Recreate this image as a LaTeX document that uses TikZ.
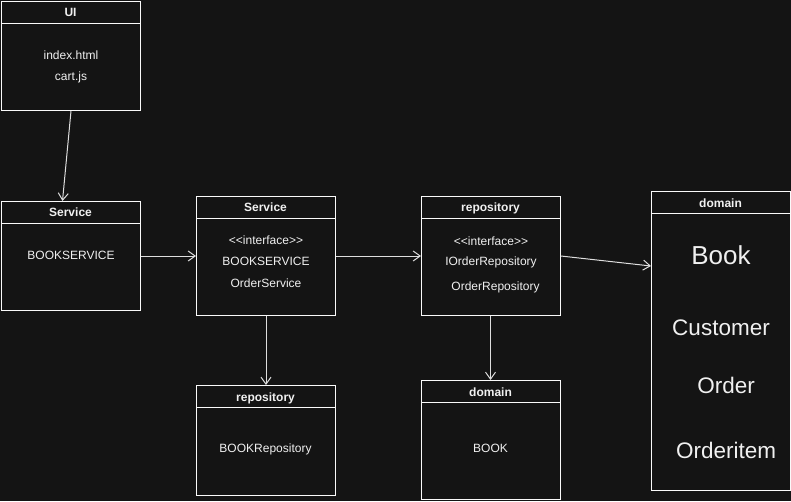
\documentclass[tikz,border=0pt]{standalone}
\usepackage{fontspec}
\setmainfont{Liberation Sans}
\usetikzlibrary{arrows.meta,calc}
\definecolor{bg}{RGB}{20,20,20}
\definecolor{fg}{RGB}{240,240,240}
\definecolor{ln}{RGB}{250,250,250}
\newcommand{\ifacelabel}{<\kern0pt<\kern0pt interface>\kern0pt>}
\tikzset{
  box/.style={draw=ln, fill=bg, line width=1pt, rectangle, anchor=north west, inner sep=0},
  ttl/.style={text=fg, font=\fontsize{12}{14}\selectfont\bfseries, inner sep=0, text height=8.6pt, text depth=0pt},
  txt/.style={text=fg, font=\fontsize{12}{14}\selectfont, inner sep=0, text height=8.6pt, text depth=0pt},
  bigtxt/.style={text=fg, font=\fontsize{22.5}{26}\selectfont, inner sep=0, text height=16.1pt, text depth=0pt},
  hugetxt/.style={text=fg, font=\fontsize{26}{30}\selectfont, inner sep=0, text height=18.6pt, text depth=0pt},
  conn/.style={draw=ln!88!bg, line width=1pt, -{Straight Barb[length=7pt,width=10pt,line width=1pt]}},
  sep/.style={draw=ln, line width=1pt}
}
\begin{document}
\begin{tikzpicture}[x=1pt,y=-1pt]
\fill[bg] (0,0) rectangle (791,501);
\useasboundingbox (0,0) rectangle (791,501);

% UI
\node[box, minimum width=139pt, minimum height=109pt] (ui) at (1,1) {};
\draw[sep] ($(ui.north west)+(0,22)$) -- ($(ui.north east)+(0,22)$);
\node[ttl] (uit) at (70.5,12) {UI};
\node[txt] (ui1) at (71,55) {index.html};
\node[txt] (ui2) at (71,76) {cart.js};

% Service left
\node[box, minimum width=139pt, minimum height=109pt] (svc1) at (1,201) {};
\draw[sep] ($(svc1.north west)+(0,22)$) -- ($(svc1.north east)+(0,22)$);
\node[ttl] (svc1t) at (70.5,212) {Service};
\node[txt] (svc1a) at (71,255) {BOOKSERVICE};

% Service middle
\node[box, minimum width=139pt, minimum height=119pt] (svc2) at (196,196) {};
\draw[sep] ($(svc2.north west)+(0,22)$) -- ($(svc2.north east)+(0,22)$);
\node[ttl] (svc2t) at (265.5,207) {Service};
\node[txt] (svc2a) at (266,240) {\ifacelabel};
\node[txt] (svc2b) at (266,261) {BOOKSERVICE};
\node[txt] (svc2c) at (266,283) {OrderService};

% repository middle
\node[box, minimum width=139pt, minimum height=119pt] (repo) at (421,196) {};
\draw[sep] ($(repo.north west)+(0,22)$) -- ($(repo.north east)+(0,22)$);
\node[ttl] (repot) at (490.5,207) {repository};
\node[txt] (repoa) at (491,241) {\ifacelabel};
\node[txt] (repob) at (491,261) {IOrderRepository};
\node[txt] (repoc) at (495.5,286) {OrderRepository};

% domain right
\node[box, minimum width=139pt, minimum height=299pt] (dom) at (651,191) {};
\draw[sep] ($(dom.north west)+(0,22)$) -- ($(dom.north east)+(0,22)$);
\node[ttl] (domt) at (720.5,203) {domain};
\node[hugetxt] (doma) at (721,255) {Book};
\node[bigtxt] (domb) at (721,327) {Customer};
\node[bigtxt] (domc) at (726,385) {Order};
\node[bigtxt] (domd) at (726,450) {Orderitem};

% repository bottom
\node[box, minimum width=139pt, minimum height=110pt] (repo2) at (196,385) {};
\draw[sep] ($(repo2.north west)+(0,22)$) -- ($(repo2.north east)+(0,22)$);
\node[ttl] (repo2t) at (265.5,397) {repository};
\node[txt] (repo2a) at (265.5,448) {BOOKRepository};

% domain bottom
\node[box, minimum width=139pt, minimum height=119pt] (dom2) at (421,380) {};
\draw[sep] ($(dom2.north west)+(0,22)$) -- ($(dom2.north east)+(0,22)$);
\node[ttl] (dom2t) at (490.5,392) {domain};
\node[txt] (dom2a) at (490.5,448) {BOOK};

% connectors
\draw[conn] (ui.south) -- ($(svc1.north)+(-8.5,0)$);
\draw[conn] (svc1.east) -- (svc2.west);
\draw[conn] (svc2.east) -- (repo.west);
\draw[conn] (repo.east) -- ($(dom.north west)+(0,75)$);
\draw[conn] (svc2.south) -- (repo2.north);
\draw[conn] ($(repo.south)+(-0.5,0)$) -- ($(dom2.north)+(-0.5,0)$);
\end{tikzpicture}
\end{document}
